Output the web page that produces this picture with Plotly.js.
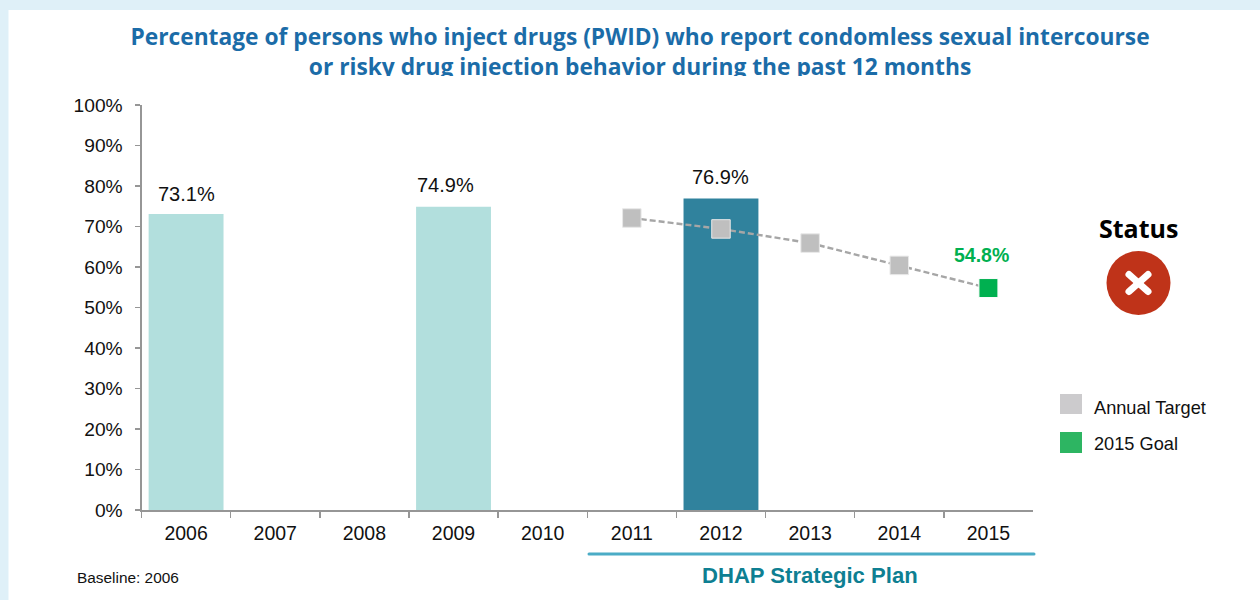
<!DOCTYPE html>
<html>
<head>
<meta charset="utf-8">
<script src="https://cdn.plot.ly/plotly-3.0.1.min.js"></script>
<style>
  html, body { margin: 0; padding: 0; background: #DFF0F8; overflow: hidden; }
  #wrap { position: relative; width: 1260px; height: 600px; }
  #chart { width: 1260px; height: 600px; }
  /* Title band ends here; the second line is cut off at the lower edge */
  #titleEdge { position: absolute; left: 300px; top: 76px; width: 800px; height: 10px; background: #fff; }
  .shapelayer path { stroke-linecap: round; }
</style>
</head>
<body>
<div id="wrap">
  <div id="chart"></div>
  <div id="titleEdge"></div>
</div>
<script>
// Survey years
const years = ['2006','2007','2008','2009','2010','2011','2012','2013','2014','2015'];
// Measured percentages (null where no survey was run)
const measured = [73.1, null, null, 74.9, null, null, 76.9, null, null, null];
const barColors = ['#B2DFDD','#B2DFDD','#B2DFDD','#B2DFDD','#B2DFDD','#B2DFDD','#30829D','#B2DFDD','#B2DFDD','#B2DFDD'];
// Annual targets on the way to the 2015 goal
const targetYears = ['2011','2012','2013','2014','2015'];
const targets = [72.1, 69.4, 65.9, 60.4, 54.8];
const goalYear = ['2015'];
const goal = [54.8];
const yTicks = [0,10,20,30,40,50,60,70,80,90,100];
const yTickText = yTicks.map(v => v + '%');

const W = 1260, H = 600;
const px = x => x / W;
const py = y => 1 - y / H;

const FONT = '"Liberation Sans", Arial, sans-serif';
const TITLE_FONT = '"Open Sans", "Noto Sans", sans-serif';

const traces = [
  { type: 'bar', x: years, y: measured, width: 0.84,
    marker: { color: barColors, line: { width: 0 } }, hoverinfo: 'x+y', showlegend: false },
  { type: 'scatter', mode: 'lines+markers', x: targetYears, y: targets, name: 'Annual Target',
    line: { color: '#A6A6A6', width: 2.4, dash: '6px,3px' },
    marker: { symbol: 'square', size: 18.5, color: '#BFBFBF', line: { color: '#E8E8E8', width: 1 } },
    showlegend: false },
  { type: 'scatter', mode: 'markers', x: goalYear, y: goal, name: '2015 Goal',
    marker: { symbol: 'square', size: 19, color: '#00B050', line: { color: '#FFFFFF', width: 1 } },
    showlegend: false }
];

// Hand-placed nudges for the bar labels, keyed by year
const labelNudge = { '2006': [0, 20], '2009': [-8, 22], '2012': [0, 21.5] };

// Value labels over the bars and the goal point; a numeric-looking category
// has to be addressed by its index on the axis
const valueLabels = [];
years.forEach((yr, i) => {
  if (measured[i] !== null) {
    valueLabels.push({ x: i, y: measured[i], xref: 'x', yref: 'y', text: measured[i].toFixed(1) + '%',
      showarrow: false, xshift: labelNudge[yr][0], yshift: labelNudge[yr][1],
      font: { family: FONT, size: 20, color: '#111' } });
  }
});
valueLabels.push({ x: years.indexOf(goalYear[0]), y: goal[0], xref: 'x', yref: 'y', text: goal[0].toFixed(1) + '%',
  showarrow: false, xshift: -7, yshift: 33, font: { family: FONT, size: 19.5, color: '#00B050', weight: 700 } });

const pageText = (x, y, text, size, color, opts) => Object.assign({
  xref: 'paper', yref: 'paper', x: px(x), y: py(y), text, showarrow: false,
  xanchor: 'left', yanchor: 'middle',
  font: { family: FONT, size, color }
}, opts || {});

const annotations = valueLabels.concat([
  pageText(75, 577, 'Baseline: 2006', 15.4, '#111'),
  pageText(810, 575, 'DHAP Strategic Plan', 22.1, '#0E7F92',
    { xanchor: 'center', font: { family: FONT, size: 22.1, color: '#0E7F92', weight: 700 } }),
  pageText(1092, 408, 'Annual Target', 18.2, '#111'),
  pageText(1092, 444, '2015 Goal', 18.2, '#111'),
  pageText(1138, 228, 'Status', 25, '#000',
    { xanchor: 'center', font: { family: TITLE_FONT, size: 25, color: '#000', weight: 700 } })
]);

const rect = (x0, y0, x1, y1, color, layer) => ({
  type: 'rect', xref: 'paper', yref: 'paper', layer: layer || 'below',
  x0: px(x0), x1: px(x1), y0: py(y0), y1: py(y1),
  fillcolor: color, line: { width: 0 }
});
const seg = (x0, y0, x1, y1, color, width) => ({
  type: 'line', xref: 'paper', yref: 'paper', layer: 'above',
  x0: px(x0), x1: px(x1), y0: py(y0), y1: py(y1),
  line: { color, width }
});

const shapes = [
  rect(8.5, 10, 1260, 600, '#FFFFFF'),
  seg(589, 554, 1034, 554, '#4BACC6', 3),
  rect(1060, 394, 1082, 414, '#CCCBCD', 'above'),
  rect(1060, 432, 1082, 453, '#2DB562', 'above'),
  { type: 'circle', xref: 'paper', yref: 'paper', layer: 'above',
    x0: px(1106.5), x1: px(1170.5), y0: py(251), y1: py(315),
    fillcolor: '#BF3319', line: { width: 0 } },
  seg(1129, 274.5, 1148, 291.5, '#FFFFFF', 7),
  seg(1148, 274.5, 1129, 291.5, '#FFFFFF', 7)
];

const layout = {
  width: W, height: H,
  margin: { l: 0, r: 0, t: 0, b: 0, pad: 0 },
  paper_bgcolor: '#DFF0F8', plot_bgcolor: 'rgba(0,0,0,0)',
  font: { family: FONT, color: '#111' },
  showlegend: false, bargap: 0.16,
  title: {
    text: 'Percentage of persons who inject drugs (PWID) who report condomless sexual intercourse<br>or risky drug injection behavior during the past 12 months',
    font: { family: TITLE_FONT, size: 22.77, color: '#1B6CA8', weight: 700 },
    x: px(640), xanchor: 'center', xref: 'paper',
    y: py(45), yanchor: 'top', yref: 'paper'
  },
  xaxis: {
    type: 'category', categoryorder: 'array', categoryarray: years,
    domain: [px(141.5), px(1033)], range: [-0.5, 9.5],
    tickson: 'boundaries', ticks: 'outside', ticklen: 6, tickwidth: 1.5, tickcolor: '#969696',
    showline: true, linecolor: '#969696', linewidth: 2, showgrid: false, zeroline: false,
    ticklabelstandoff: 5,
    tickfont: { family: FONT, size: 19.5, color: '#111' }, fixedrange: true
  },
  yaxis: {
    domain: [py(510), py(105)], range: [0, 100],
    tickmode: 'array', tickvals: yTicks, ticktext: yTickText,
    ticks: 'outside', ticklen: 5, tickwidth: 1.5, tickcolor: '#969696',
    showline: true, linecolor: '#969696', linewidth: 2, showgrid: false, zeroline: false,
    ticklabelstandoff: 8,
    tickfont: { family: FONT, size: 19.2, color: '#111' }, fixedrange: true
  },
  annotations, shapes
};

Plotly.newPlot('chart', traces, layout, { displayModeBar: false, staticPlot: true });
</script>
</body>
</html>
